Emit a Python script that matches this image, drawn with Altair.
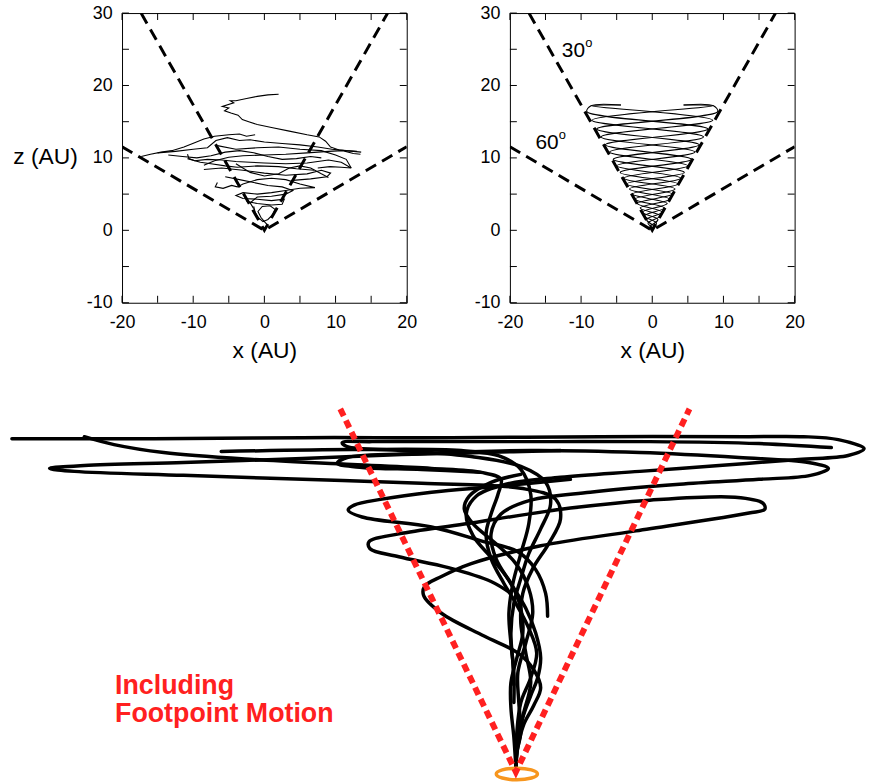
import altair as alt
import pandas as pd

FONT = "Liberation Sans"

# ---------------- top panels: axes ----------------
x_ticks = [-20, -15, -10, -5, 0, 5, 10, 15, 20]
z_ticks = [-10, -5, 0, 5, 10, 15, 20, 25, 30]
x_labels = [-20, -10, 0, 10, 20]
z_labels = [-10, 0, 10, 20, 30]

# dashed cones (30 deg and 60 deg from vertical)
cone30 = [(-17.32, 30.0), (0.0, 0.0), (17.32, 30.0)]
cone60 = [(-20.0, 11.55), (0.0, 0.0), (20.0, 11.55)]

# ---------------- left panel: tangled trajectories ----------------
path_l1 = [(2.0, 18.8), (0.5, 18.7), (-1.0, 18.5), (-2.5, 18.2), (-4.0, 17.9), (-4.8, 17.9), (-4.3, 17.6),
           (-5.9, 17.1), (-5.0, 16.9), (-5.6, 16.5), (-4.7, 16.2), (-3.7, 15.9), (-3.1, 15.3), (-2.2, 15.0),
           (-1.0, 14.6), (1.0, 14.2), (3.5, 13.7), (6.0, 13.2), (7.7, 12.9), (8.6, 12.3), (9.3, 11.5),
           (10.5, 11.1), (12.5, 10.9), (13.6, 10.8)]
path_l2 = [(-17.3, 10.2), (-16.0, 10.5), (-14.5, 10.8), (-13.0, 11.0), (-11.3, 11.5), (-9.8, 12.1),
           (-8.5, 12.6), (-7.0, 13.0), (-5.0, 13.2), (-3.5, 13.3), (-2.5, 13.0), (-1.3, 13.2)]
path_l3 = [(-15.0, 10.7), (-12.5, 10.9), (-10.0, 11.2), (-8.0, 11.4), (-6.8, 12.4), (-5.2, 12.8),
           (-3.5, 12.4), (-2.0, 12.5), (0.0, 12.2), (2.5, 12.0), (5.0, 11.8), (7.5, 11.5), (9.5, 11.2),
           (11.5, 11.0), (13.0, 10.9)]
path_l4 = [(-8.5, 9.0), (-7.0, 9.6), (-5.0, 10.1), (-3.0, 10.3), (0.0, 10.4), (3.0, 10.5), (6.0, 10.7),
           (9.0, 10.9), (11.0, 11.0), (12.5, 10.6), (13.5, 10.5)]
path_l5 = [(-10.8, 10.5), (-10.6, 9.9), (-9.8, 9.6), (-8.0, 9.8), (-6.0, 9.7), (-4.0, 9.5), (-2.0, 9.4),
           (0.0, 9.3), (3.0, 9.2), (6.0, 9.3), (9.0, 9.7), (10.8, 9.4), (12.2, 8.6), (10.8, 8.7),
           (9.2, 8.8), (7.5, 8.6)]
path_l6 = [(-8.5, 8.4), (-6.0, 8.6), (-3.0, 8.3), (0.0, 7.9), (3.0, 7.6), (6.0, 7.8), (8.0, 8.3),
           (9.3, 7.9), (8.8, 7.4), (6.5, 7.1), (4.0, 6.9)]
path_l7 = [(-6.6, 6.6), (-6.9, 6.0), (-5.8, 5.8), (-4.6, 6.2), (-3.8, 6.0), (-3.0, 6.4), (-1.0, 7.0),
           (1.0, 7.2), (3.0, 7.0), (5.0, 6.4), (7.1, 5.9), (5.0, 5.8), (3.0, 5.5), (1.0, 5.2), (-1.0, 5.0),
           (-3.0, 5.2), (-4.0, 4.8), (-3.0, 4.4), (-1.0, 4.3), (1.0, 4.1), (2.8, 4.3), (2.5, 3.6),
           (1.0, 3.5), (-1.0, 3.7), (-2.5, 4.0)]
path_l8 = [(-1.5, 3.3), (-1.3, 2.5), (-0.8, 1.7), (-0.2, 1.2), (0.5, 1.5), (1.2, 2.2), (1.5, 2.9),
           (0.8, 3.4), (-0.3, 3.3), (-0.9, 2.6), (-0.5, 1.8), (0.0, 1.2), (0.4, 0.8)]
path_l9 = [(-6.6, 11.7), (-4.0, 11.2), (-1.0, 11.4), (2.0, 11.5), (5.0, 11.2), (8.0, 11.0), (10.0, 10.4),
           (11.5, 9.8), (12.2, 8.6)]
path_l10 = [(-10.8, 9.9), (-9.0, 9.4), (-7.5, 9.2), (-5.5, 8.9), (-3.8, 8.7), (-1.0, 8.9), (2.0, 8.8),
            (4.5, 8.5), (7.0, 8.3)]
path_l11 = [(-13.5, 10.4), (-11.5, 10.2), (-9.5, 10.0), (-7.5, 10.3), (-5.5, 10.8), (-3.5, 11.0),
            (-1.5, 10.7), (0.5, 10.2), (2.5, 9.8), (4.5, 9.9), (6.5, 10.2), (8.0, 10.0)]
path_l12 = [(-4.0, 9.2), (-2.0, 8.0), (0.0, 7.5), (2.0, 7.8), (3.5, 8.6), (5.0, 8.9), (6.5, 8.6),
            (8.0, 7.8), (9.0, 7.3)]
path_l13 = [(-5.5, 7.4), (-3.5, 7.0), (-1.5, 6.6), (0.5, 6.2), (2.5, 6.0), (4.0, 5.5), (3.0, 5.0),
            (1.0, 4.7), (-1.0, 4.6), (-2.0, 3.8), (-1.5, 3.0)]

# ---------------- right panel: interleaved conical helices ----------------
helix_levels = [16.4, 15.2, 14.0, 12.9, 11.8, 10.8, 9.8, 8.9, 8.0, 7.2, 6.4, 5.7, 5.0, 4.3, 3.7, 3.1,
                2.5, 2.0, 1.5, 1.0, 0.6, 0.3]
helix_halfwidth = [9.2, 8.5, 7.8, 7.2, 6.6, 6.0, 5.5, 5.0, 4.5, 4.0, 3.6, 3.2, 2.8, 2.4, 2.1, 1.7,
                   1.4, 1.1, 0.8, 0.6, 0.35, 0.15]
stub_left = [(-4.4, 17.3), (-8.6, 17.2)]
stub_right = [(4.4, 17.3), (8.6, 17.2)]
angle_labels = ["30", "60"]
angle_x = [-12.7, -16.4]
angle_z = [24.8, 12.1]

# ---------------- bottom sketch (units: px-like, footpoint at origin) ----------------
strand_a = [(-508, 336), (-365, 336), (-215, 337), (-65, 337), (85, 338), (235, 338), (290, 338), (325, 335),
            (351, 326), (335, 319), (285, 315), (205, 309), (125, 303), (45, 297), (-10, 290), (-40, 278),
            (-50, 260), (-43, 238), (-23, 214), (-5, 190), (5, 165), (7, 140), (1, 115), (-5, 90), (-5, 65),
            (-2, 35), (0, 5)]
strand_b = [(-435, 338), (-405, 330), (-355, 322), (-265, 315), (-165, 310), (-85, 306), (-35, 302),
            (-15, 295), (-18, 280), (-25, 260), (-30, 240), (-25, 215), (-12, 190), (0, 170), (13, 145),
            (21, 120), (15, 95), (5, 70), (1, 40), (0, 5)]
strand_c = [(45, 324), (-35, 322), (-115, 320), (-215, 316), (-335, 312), (-435, 309), (-470, 306),
            (-445, 303), (-335, 299), (-215, 295), (-95, 291), (5, 286), (40, 275), (45, 255), (33, 230),
            (17, 205), (7, 180), (5, 150), (10, 120), (15, 90), (8, 60), (1, 30), (0, 5)]
strand_d = [(-297, 323), (-165, 325), (-55, 324), (-15, 318), (5, 305), (15, 280), (13, 250), (5, 220),
            (-3, 190), (-7, 160), (-5, 130), (-2, 100), (-2, 70)]
strand_e = [(318, 327), (245, 331), (135, 333), (35, 333), (-65, 333), (-145, 333), (-175, 332),
            (-170, 328), (-115, 324), (-45, 318), (5, 308), (30, 292), (35, 270), (25, 245), (13, 220),
            (5, 195), (-2, 170), (-5, 140), (-3, 110), (-2, 88)]
strand_f = [(-35, 302), (-95, 305), (-155, 307), (-180, 311), (-170, 317), (-95, 321), (15, 324),
            (125, 322), (225, 317), (295, 312), (315, 306), (297, 299), (245, 295), (165, 290), (75, 282),
            (15, 274), (-15, 260), (-25, 240), (-20, 215), (-5, 190), (10, 165), (20, 140), (25, 115),
            (22, 95), (15, 77), (7, 55), (2, 30), (0, 5)]
strand_g = [(55, 295), (-18, 288), (-85, 282), (-135, 275), (-163, 269), (-169, 264), (-155, 257),
            (-85, 247), (-35, 233), (2, 222), (20, 204), (30, 180), (32, 157)]
strand_h = [(-5, 180), (-25, 192), (-68, 206), (-118, 217), (-147, 225), (-148, 232), (-118, 240),
            (-52, 250), (55, 266), (135, 274), (221, 277), (249, 271), (251, 265), (235, 261), (121, 243),
            (25, 228), (-45, 210), (-75, 197), (-92, 187), (-93, 178), (-75, 160), (-32, 137), (2, 120),
            (18, 103), (25, 85), (18, 67), (8, 48), (2, 25), (0, 5)]
strand_i = [(5, 300), (-25, 292), (-47, 278), (-52, 265), (-43, 250), (-20, 230), (0, 210), (13, 185),
            (17, 160), (10, 130), (2, 100), (3, 70), (5, 40), (1, 20), (0, 5)]
red_guides = [(-177, 366), (0, 0), (175, 366)]
footpoint = [(1, -2)]
note_text = "Including\nFootpoint Motion"


def to_frame(paths):
    rows = []
    for name, pts in paths.items():
        for i, (x, z) in enumerate(pts):
            rows.append({"path": name, "i": i, "x": x, "z": z})
    return pd.DataFrame(rows)


def helix_path(start, first_side, stub):
    """Turning points taken from every other level, alternating walls."""
    pts = list(stub)
    side = first_side
    for k in range(start, len(helix_levels), 2):
        pts.append((side * helix_halfwidth[k], helix_levels[k]))
        side = -side
    return pts


PW, PH = 287, 292
xs = alt.Scale(domain=[-20, 20], nice=False, zero=False)
zs = alt.Scale(domain=[-10, 30], nice=False, zero=False)
LABEL_EXPR = "'' + datum.value"


def x_axis():
    return alt.Axis(values=x_labels, labelExpr=LABEL_EXPR, title="x (AU)", ticks=False, domain=False,
                    grid=False, labelFont=FONT, labelFontSize=18, labelColor="black", labelPadding=11,
                    labelFlush=False, labelOverlap=False, titleFont=FONT, titleFontSize=23,
                    titleFontWeight="normal", titleColor="black", titlePadding=8)


def z_axis(with_title):
    kw = dict(values=z_labels, labelExpr=LABEL_EXPR, ticks=False, domain=False, grid=False,
              labelFont=FONT, labelFontSize=18, labelColor="black", labelPadding=10,
              labelFlush=False, labelOverlap=False)
    if with_title:
        kw.update(title="z (AU)", titleFont=FONT, titleFontSize=23, titleFontWeight="normal",
                  titleColor="black", titleAngle=0, titleAlign="right", titleBaseline="middle",
                  titleX=-45, titleY=145)
    else:
        kw["title"] = None
    return alt.Axis(**kw)


def panel(traj_paths, lw, interp, with_title, text_layers):
    xa = x_axis()
    za = z_axis(with_title)
    X = lambda f: alt.X(f, scale=xs, axis=xa)
    Z = lambda f: alt.Y(f, scale=zs, axis=za)
    traj = alt.Chart(to_frame(traj_paths)).mark_line(
        color="black", strokeWidth=lw, clip=True, interpolate=interp
    ).encode(x=X("x:Q"), y=Z("z:Q"), detail="path:N", order="i:Q")
    cones = alt.Chart(to_frame({"c30": cone30, "c60": cone60})).mark_line(
        color="black", strokeWidth=3, strokeDash=[12, 7], clip=True
    ).encode(x=X("x:Q"), y=Z("z:Q"), detail="path:N", order="i:Q")
    xt = pd.DataFrame({"t": x_ticks})
    zt = pd.DataFrame({"t": z_ticks})
    tick_mark = dict(color="black", strokeWidth=1)
    bt = alt.Chart(xt).mark_rule(**tick_mark).encode(x=X("t:Q"), y=alt.value(PH), y2=alt.value(PH - 7))
    tt = alt.Chart(xt).mark_rule(**tick_mark).encode(x=X("t:Q"), y=alt.value(0), y2=alt.value(7))
    lt = alt.Chart(zt).mark_rule(**tick_mark).encode(y=Z("t:Q"), x=alt.value(0), x2=alt.value(7))
    rt = alt.Chart(zt).mark_rule(**tick_mark).encode(y=Z("t:Q"), x=alt.value(PW), x2=alt.value(PW - 7))
    extra = [fn(X, Z) for fn in text_layers]
    return alt.layer(traj, cones, bt, tt, lt, rt, *extra).properties(
        width=PW, height=PH, view=alt.ViewBackground(stroke="black", strokeWidth=1)
    )


left = panel({f"l{i + 1}": p for i, p in enumerate(
    [path_l1, path_l2, path_l3, path_l4, path_l5, path_l6, path_l7, path_l8, path_l9, path_l10,
     path_l11, path_l12, path_l13])}, 1.1, "linear", True, [])

ang_df = pd.DataFrame({"label": angle_labels, "x": angle_x, "z": angle_z})


def ang_num(X, Z):
    return alt.Chart(ang_df).mark_text(
        font=FONT, fontSize=21, align="left", baseline="middle", color="black"
    ).encode(x=X("x:Q"), y=Z("z:Q"), text="label:N")


def ang_deg(X, Z):
    return alt.Chart(ang_df).mark_text(
        font=FONT, fontSize=13, align="left", baseline="middle", color="black", dx=23.5, dy=-8, text="o"
    ).encode(x=X("x:Q"), y=Z("z:Q"))


helices = {
    "a": helix_path(0, -1, stub_left),
    "b": helix_path(0, 1, stub_right),
    "c": helix_path(1, -1, stub_right),
    "d": helix_path(1, 1, stub_left),
}
right = panel(helices, 1.1, "catmull-rom", False, [ang_num, ang_deg])

# ---------------- bottom sketch ----------------
# plot area starts under the left panel's frame; the sketch spills to its left
BW, BH = 745, 382
bx = alt.Scale(domain=[-397, 348], nice=False, zero=False)
bz = alt.Scale(domain=[-7, 375], nice=False, zero=False)

strands = alt.Chart(to_frame({"a": strand_a, "b": strand_b, "c": strand_c, "d": strand_d, "e": strand_e,
                              "f": strand_f, "g": strand_g, "h": strand_h, "i": strand_i})).mark_line(
    color="black", strokeWidth=3.5, interpolate="catmull-rom", strokeCap="round"
).encode(
    x=alt.X("x:Q", scale=bx, axis=None), y=alt.Y("z:Q", scale=bz, axis=None),
    detail="path:N", order="i:Q",
)
ellipse = alt.Chart(to_frame({"fp": footpoint})).mark_point(
    shape="M-1,0A1,0.28,0,1,1,1,0A1,0.28,0,1,1,-1,0Z", size=1722, filled=False,
    strokeWidth=3.5, color="#f7961e", opacity=1
).encode(x=alt.X("x:Q", scale=bx, axis=None), y=alt.Y("z:Q", scale=bz, axis=None))
guides = alt.Chart(to_frame({"r": red_guides})).mark_line(
    color="#ff2020", strokeWidth=6, strokeDash=[8, 5], strokeCap="butt"
).encode(
    x=alt.X("x:Q", scale=bx, axis=None), y=alt.Y("z:Q", scale=bz, axis=None),
    detail="path:N", order="i:Q",
)
note = alt.Chart(pd.DataFrame({"label": [note_text]})).mark_text(
    font=FONT, fontSize=27, fontWeight="bold", color="#ff2020", align="left", baseline="top",
    lineBreak="\n", lineHeight=29
).encode(x=alt.datum(-404), y=alt.datum(100), text="label:N")

bottom = alt.layer(strands, ellipse, guides, note).properties(width=BW, height=BH)

top = alt.hconcat(left, right, spacing=56)
chart = alt.vconcat(top, bottom, spacing=33).properties(
    padding={"left": 4, "top": 0, "right": 0, "bottom": 0}
).configure_view(stroke=None)

chart.save("out.html", embed_options={"renderer": "svg", "actions": False})
